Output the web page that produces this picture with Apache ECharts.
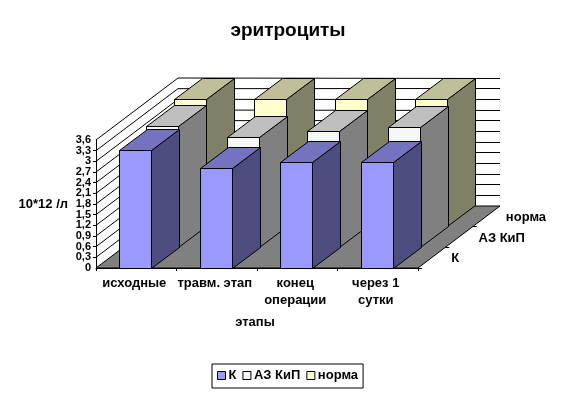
<!DOCTYPE html>
<html>
<head>
<meta charset="utf-8">
<style>html,body{margin:0;padding:0;background:#fff}#c{width:576px;height:396px}</style>
<script src="https://cdn.jsdelivr.net/npm/echarts@6/dist/echarts.min.js"></script>
</head>
<body>
<div id="c"></div>
<script>
var categories = ['исходные', 'травм. этап', 'конец\nоперации', 'через 1\nсутки'];
var seriesNames = ['К', 'АЗ КиП', 'норма'];
var valuesK = [3.31, 2.81, 2.98, 2.98];
var valuesAZ = [3.41, 3.09, 3.25, 3.38];
var valuesNorma = [3.58, 3.58, 3.58, 3.58];
var yTicks = [0, 0.3, 0.6, 0.9, 1.2, 1.5, 1.8, 2.1, 2.4, 2.7, 3, 3.3, 3.6];
var yEndTicks = [0, 3.6];

var DX = 82, DY = -62, ROWS = 3;
var FONT = '"Liberation Sans", Arial, sans-serif';
var chart = echarts.init(document.getElementById('c'));

function snap(v) { return Math.round(v - 0.5) + 0.5; }
function yFormat(v) { return String(Math.round(v * 10) / 10).replace('.', ','); }

function frameRender(params, api) {
  var band = api.size([1, 0])[0];
  var o = api.coord([0, 0]);
  var left = o[0] - band / 2, right = left + band * categories.length, base = o[1];
  var line = {stroke: '#000', lineWidth: 1, fill: null};
  var kids = [];
  kids.push({type: 'polygon', shape: {points: [[left, base], [right, base], [right + DX, base + DY], [left + DX, base + DY]]},
    style: {fill: '#808080', stroke: '#000', lineWidth: 1}});
  yTicks.forEach(function (t) {
    var y = api.coord([0, t])[1];
    if (t > 0) {
      kids.push({type: 'polyline', shape: {points: [[left, y], [left + DX, y + DY], [right + DX, snap(y + DY)]]}, style: line});
    }
  });
  seriesNames.forEach(function (name, i) {
    var mx = right + DX * (i + 0.5) / ROWS, my = base + DY * (i + 0.5) / ROWS;
    var ty = snap(base + DY * i / ROWS);
    kids.push({type: 'line', shape: {x1: right + DX * i / ROWS, y1: ty, x2: right + DX * i / ROWS + 4, y2: ty}, style: line});
    kids.push({type: 'text', style: {text: name, x: mx + 19.5, y: my + 1, fill: '#000', font: 'bold 13px ' + FONT, align: 'left', verticalAlign: 'middle'}});
  });
  return {type: 'group', children: kids};
}

function barRender(row, front, top, side) {
  return function (params, api) {
    var band = api.size([1, 0])[0];
    var w = band * 0.4;
    var c = api.coord([api.value(0), api.value(1)]);
    var b = api.coord([api.value(0), 0]);
    var ox = DX * row / ROWS, oy = DY * row / ROWS;
    var ddx = Math.ceil(DX / ROWS), ddy = Math.floor(DY / ROWS);
    var x0 = snap(c[0] - w / 2 + ox - 0.5), x1 = snap(x0 + w), yt = snap(c[1] + oy), yb = snap(b[1] + oy);
    var st = {stroke: '#000', lineWidth: 1};
    return {type: 'group', children: [
      {type: 'polygon', shape: {points: [[x1, yt], [x1 + ddx, yt + ddy], [x1 + ddx, yb + ddy], [x1, yb]]}, style: Object.assign({fill: side}, st)},
      {type: 'polygon', shape: {points: [[x0, yt], [x0 + ddx, yt + ddy], [x1 + ddx, yt + ddy], [x1, yt]]}, style: Object.assign({fill: top}, st)},
      {type: 'rect', shape: {x: x0, y: yt, width: x1 - x0, height: yb - yt}, style: Object.assign({fill: front}, st)}
    ]};
  };
}

function pts(arr) { return arr.map(function (v, i) { return [i, v]; }); }
function barSeries(name, arr, row, front, top, side, z) {
  return {type: 'custom', name: name, data: pts(arr), encode: {x: 0, y: 1}, z: z, clip: false,
    itemStyle: {color: front}, renderItem: barRender(row, front, top, side)};
}

var yLabelStyle = {margin: 5, color: '#000', fontFamily: FONT, fontWeight: 'bold', fontSize: 11, hideOverlap: false, formatter: yFormat};

chart.setOption({
  animation: false,
  backgroundColor: '#fff',
  textStyle: {fontFamily: FONT},
  title: {text: 'эритроциты', left: 'center', top: 16,
    textStyle: {fontFamily: FONT, fontSize: 19, fontWeight: 'bold', color: '#000'}},
  grid: {left: 96, top: 140, width: 322, height: 128, containLabel: false, outerBoundsMode: 'none'},
  xAxis: {type: 'category', data: categories,
    name: 'этапы', nameLocation: 'middle', nameGap: 48,
    nameTextStyle: {fontFamily: FONT, fontWeight: 'bold', fontSize: 13, color: '#000', padding: [0, 4, 0, 0]},
    axisLine: {lineStyle: {color: '#000'}}, axisTick: {show: true, length: 3, lineStyle: {color: '#000'}},
    axisLabel: {interval: 0, margin: 7, padding: [0, 4, 0, 0], color: '#000', fontFamily: FONT, fontWeight: 'bold', fontSize: 13, lineHeight: 17},
    splitLine: {show: false}},
  yAxis: [
    {type: 'value', min: 0, max: 3.6, interval: 0.3,
      name: '10*12 /л', nameLocation: 'middle', nameRotate: 0, nameGap: 28,
      nameTextStyle: {fontFamily: FONT, fontWeight: 'bold', fontSize: 13, color: '#000'},
      axisLine: {show: true, lineStyle: {color: '#000'}}, axisTick: {show: true, length: 3, lineStyle: {color: '#000'}},
      axisLabel: Object.assign({customValues: yTicks}, yLabelStyle),
      splitLine: {show: false}},
    {type: 'value', position: 'left', min: 0, max: 3.6, interval: 0.3,
      axisLine: {show: false}, axisTick: {show: false},
      axisLabel: Object.assign({customValues: yEndTicks}, yLabelStyle),
      splitLine: {show: false}}
  ],
  legend: {data: seriesNames, left: 212, top: 364, icon: 'rect', itemWidth: 8, itemHeight: 8, itemGap: 6,
    padding: [5, 5, 6, 5], backgroundColor: '#fff', borderColor: '#000', borderWidth: 1, selectedMode: false,
    itemStyle: {borderColor: '#000', borderWidth: 1},
    textStyle: {fontFamily: FONT, fontWeight: 'bold', fontSize: 13, color: '#000', padding: [0, 0, 0, -2]}},
  series: [
    {type: 'custom', name: 'frame', data: [[0, 0]], encode: {x: 0, y: 1}, z: 1, clip: false, silent: true, renderItem: frameRender},
    barSeries('норма', valuesNorma, 2, '#FFFFCC', '#BFBF99', '#808066', 2),
    barSeries('АЗ КиП', valuesAZ, 1, '#F7F7F7', '#BFBFBF', '#808080', 3),
    barSeries('К', valuesK, 0, '#9999FF', '#7373BF', '#4D4D80', 4)
  ]
});
</script>
</body>
</html>
